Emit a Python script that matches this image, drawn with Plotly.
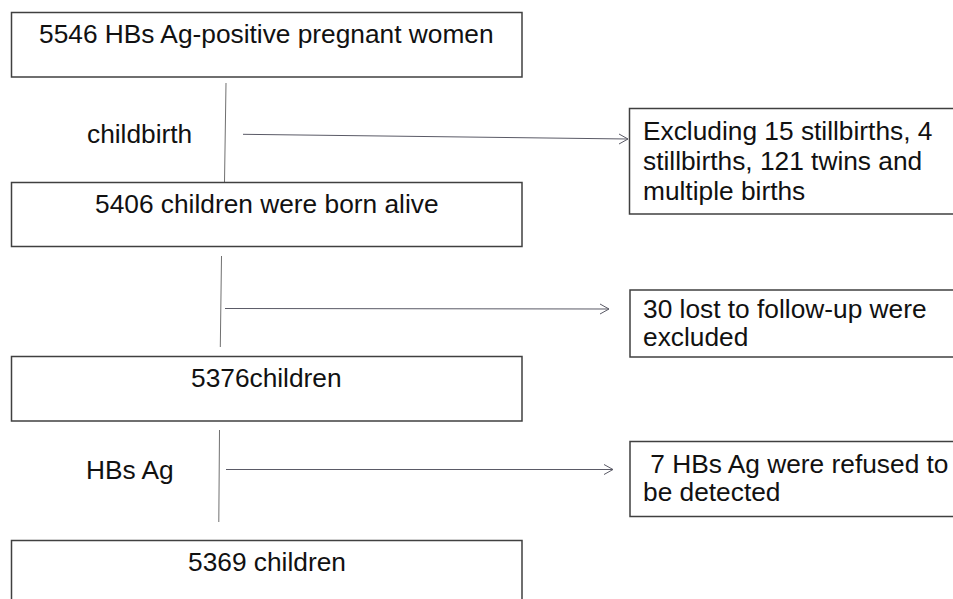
import plotly.graph_objects as go

# ---- content (texts) ----
main_labels = ["5546 HBs Ag-positive pregnant women",
               "5406 children were born alive",
               "5376children",
               "5369 children"]
step_labels = ["childbirth", "", "HBs Ag"]
side_labels = [["Excluding 15 stillbirths, 4", "stillbirths, 121 twins and", "multiple births"],
               ["30 lost to follow-up were", "excluded"],
               [" 7 HBs Ag were refused to", "be detected"]]

# ---- layout (pixel geometry, y downward) ----
W, H = 953, 599
FS = 26.3
FONT = "Liberation Sans, Arial, sans-serif"
main_boxes = [(11.5, 12.5, 522, 77), (11.5, 182.5, 522, 246.5),
              (11.5, 356.5, 522, 421), (11.5, 540.5, 522, 620)]
main_baselines = [43.5, 213.5, 387.5, 571]
vlines = [((226, 83), (224.5, 182)), ((221.5, 256), (220.3, 347)), ((219.5, 430), (218.8, 522))]
step_pos = [(139, 143), None, (130, 479)]
arrows = [((243, 134.3), (628, 139)), ((225, 308.5), (609, 309)), ((226, 469.5), (613, 469.5))]
side_boxes = [(629.5, 108.5, 960, 214), (630, 290, 960, 357), (630, 441.5, 960, 516.5)]
side_x = [640.5, 640.5, 640.5]
side_baselines = [[140, 170, 200], [318, 346], [473.5, 501.5]]

BOX_COL = "#404040"
VLINE_COL = "#707070"
ARROW_COL = "#5a5a66"
TXT_COL = "#111111"

fig = go.Figure()
shapes = []
annotations = []

def ymid(baseline):
    return baseline - 0.35 * FS

for (x0, y0, x1, y1), lab, bl in zip(main_boxes, main_labels, main_baselines):
    shapes.append(dict(type="rect", xref="x", yref="y", x0=x0, y0=y0, x1=x1, y1=y1,
                       line=dict(color=BOX_COL, width=1.5), fillcolor="rgba(0,0,0,0)"))
    annotations.append(dict(x=(x0 + x1) / 2, y=ymid(bl), text=lab, showarrow=False,
                            xanchor="center", yanchor="middle",
                            font=dict(size=FS, color=TXT_COL, family=FONT)))

for (x0, y0, x1, y1), lines, xs, bls in zip(side_boxes, side_labels, side_x, side_baselines):
    shapes.append(dict(type="rect", xref="x", yref="y", x0=x0, y0=y0, x1=x1, y1=y1,
                       line=dict(color=BOX_COL, width=1.5), fillcolor="rgba(0,0,0,0)"))
    for ln, bl in zip(lines, bls):
        annotations.append(dict(x=xs, y=ymid(bl), text=ln.replace(" ", "&nbsp;", 1) if ln.startswith(" ") else ln,
                                showarrow=False, xanchor="left", yanchor="middle",
                                font=dict(size=FS, color=TXT_COL, family=FONT)))

for lab, pos in zip(step_labels, step_pos):
    if pos and lab:
        annotations.append(dict(x=pos[0], y=ymid(pos[1]), text=lab, showarrow=False,
                                xanchor="center", yanchor="middle",
                                font=dict(size=FS, color=TXT_COL, family=FONT)))

for (a, b) in vlines:
    fig.add_trace(go.Scatter(x=[a[0], b[0]], y=[a[1], b[1]], mode="lines",
                             line=dict(color=VLINE_COL, width=1), hoverinfo="skip", showlegend=False))

for (a, b) in arrows:
    fig.add_trace(go.Scatter(x=[a[0], b[0]], y=[a[1], b[1]], mode="lines",
                             line=dict(color=ARROW_COL, width=1), hoverinfo="skip", showlegend=False))
    tx, ty = b
    fig.add_trace(go.Scatter(x=[tx - 9, tx, tx - 9], y=[ty - 5, ty, ty + 5], mode="lines",
                             line=dict(color=ARROW_COL, width=1), hoverinfo="skip", showlegend=False))

fig.update_layout(
    width=W, height=H, margin=dict(l=0, r=0, t=0, b=0),
    paper_bgcolor="white", plot_bgcolor="white",
    xaxis=dict(range=[0, W], visible=False, fixedrange=True),
    yaxis=dict(range=[H, 0], visible=False, fixedrange=True),
    shapes=shapes, annotations=annotations, showlegend=False,
)
fig.write_html("out.html", config={"displayModeBar": False},
               post_script="document.body.style.margin='0';document.body.style.overflow='hidden';")
